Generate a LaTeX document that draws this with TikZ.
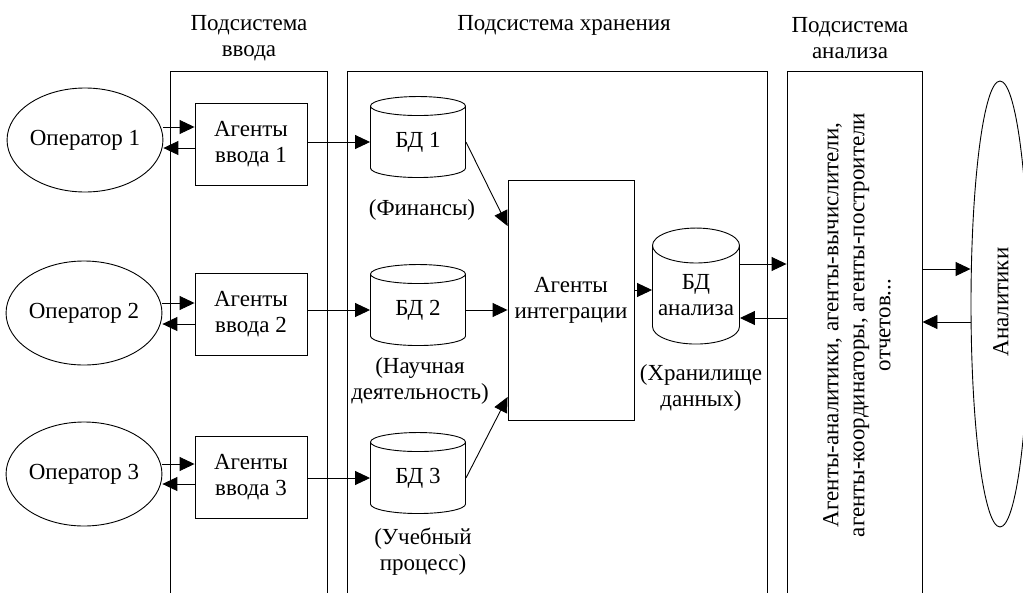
\documentclass[tikz,border=0pt]{standalone}
\usepackage{fontspec}
\setmainfont{Liberation Serif}
\usetikzlibrary{shapes.geometric,arrows.meta}

\tikzset{
  frame/.style={draw, line width=0.9pt, minimum height=570pt},
  agentbox/.style={draw, line width=0.9pt, minimum width=112pt, minimum height=82pt, align=center, inner sep=0pt},
  operator/.style={draw, ellipse, line width=0.9pt, minimum width=146pt, minimum height=104pt, inner sep=0pt},
  dbase/.style={draw, cylinder, shape border rotate=90, aspect=0.42, line width=0.9pt, minimum width=95pt, minimum height=81pt, align=center, inner sep=0pt},
  caption/.style={align=center, inner sep=0pt},
  link/.style={line width=0.9pt, -{Triangle[length=15pt,width=14pt]}},
}

\begin{document}
\begin{tikzpicture}[x=1pt, y=-1pt, font=\fontsize{23}{26}\selectfont]
\useasboundingbox (0,0) rectangle (1023,592);

\node[caption] (ttlin) at (249,38) {Подсистема\\ввода};
\node[caption] (ttlst) at (564,25) {Подсистема хранения};
\node[caption] (ttlan) at (850,38) {Подсистема\\анализа};

\node[frame, minimum width=157pt] (inframe) at (248.5,356) {};
\node[frame, minimum width=420pt] (stframe) at (557,356) {};
\node[frame, minimum width=135pt] (anbox) at (854.5,356) {};
\node[caption, rotate=90] (antext) at (857,325) {Агенты-аналитики, агенты-вычислители,\\агенты-координаторы, агенты-построители\\отчетов...};

\node[operator] (op1) at (85,140) {Оператор 1};
\node[operator] (op2) at (84,313) {Оператор 2};
\node[operator] (op3) at (84,474) {Оператор 3};

\node[agentbox] (ag1) at (251,144) {Агенты\\ввода 1};
\node[agentbox] (ag2) at (251,314) {Агенты\\ввода 2};
\node[agentbox] (ag3) at (251,477) {Агенты\\ввода 3};

\node[dbase] (db1) at (418,142) {БД 1};
\node[dbase] (db2) at (418,310) {БД 2};
\node[dbase] (db3) at (418,478) {БД 3};
\node[caption] (cap1) at (422,210) {(Финансы)};
\node[caption] (cap2) at (420,381) {(Научная\\деятельность)};
\node[caption] (cap3) at (423,552) {(Учебный\\процесс)};

\node[agentbox, minimum width=126pt, minimum height=240pt] (integ) at (571,300) {Агенты\\интеграции};
\node[dbase, minimum width=87pt, minimum height=116pt, aspect=0.46] (bda) at (696,295) {БД\\анализа};
\node[caption] (capa) at (701,388) {(Хранилище\\данных)};

\node[draw, ellipse, line width=0.9pt, minimum width=58pt, minimum height=446pt] (analysts) at (1000,304) {};
\node[caption, rotate=90] (analyststext) at (1001,302) {Аналитики};

\draw[link] (op1.east |- 0,127) -- (ag1.west |- 0,127);
\draw[link] (ag1.west |- 0,148) -- (op1.east |- 0,148);
\draw[link] (op2.east |- 0,303) -- (ag2.west |- 0,303);
\draw[link] (ag2.west |- 0,324) -- (op2.east |- 0,324);
\draw[link] (op3.east |- 0,464) -- (ag3.west |- 0,464);
\draw[link] (ag3.west |- 0,484) -- (op3.east |- 0,484);

\draw[link] (ag1.east |- db1.west) -- (db1.west);
\draw[link] (ag2.east |- db2.west) -- (db2.west);
\draw[link] (ag3.east |- db3.west) -- (db3.west);

\draw[link] (db1.east) -- ([yshift=74pt]integ.west);
\draw[link] (db2.east) -- (integ.west |- db2.east);
\draw[link] (db3.east) -- ([yshift=-97pt]integ.west);
\draw[link] (integ.east |- 0,290) -- (bda.west |- 0,290);

\draw[link] (bda.east |- 0,264) -- (anbox.west |- 0,264);
\draw[link] (anbox.west |- 0,318) -- (bda.east |- 0,318);
\draw[link] (anbox.east |- 0,269) -- (analysts.west |- 0,269);
\draw[link] (analysts.west |- 0,322) -- (anbox.east |- 0,322);

\end{tikzpicture}
\end{document}
